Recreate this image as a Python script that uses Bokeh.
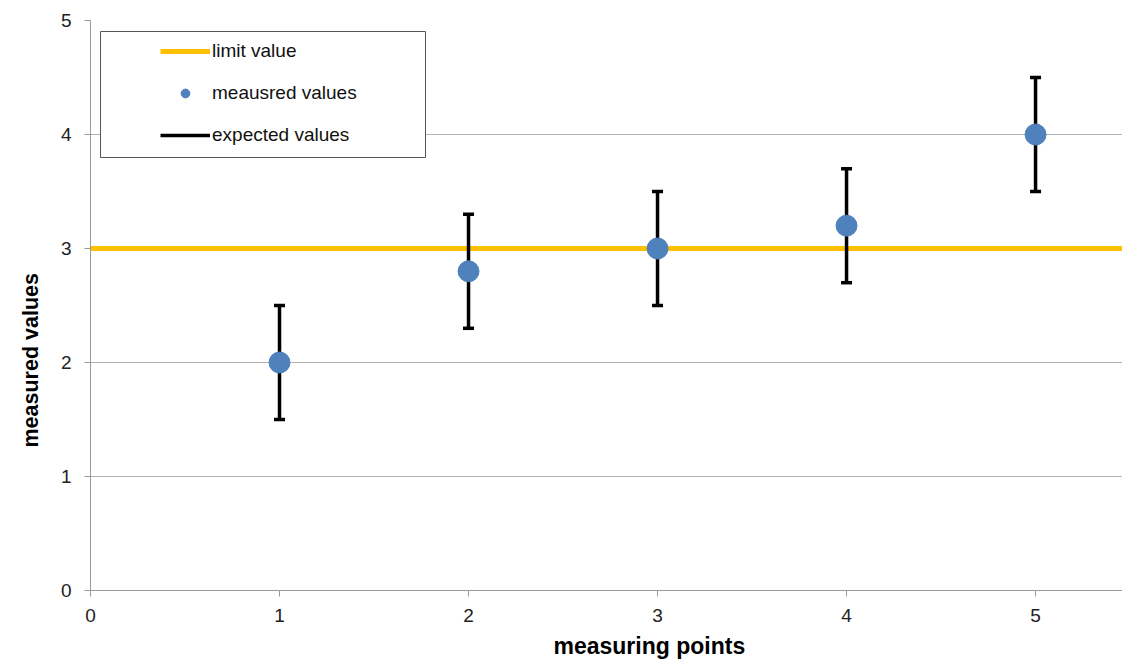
from bokeh.plotting import figure
from bokeh.models import Range1d, FixedTicker, Legend, LegendItem, BoxAnnotation, Title
from bokeh.embed import file_html
from bokeh.resources import INLINE

# data
points = [1, 2, 3, 4, 5]
measured = [2.0, 2.8, 3.0, 3.2, 4.0]
expected_low = [1.5, 2.3, 2.5, 2.7, 3.5]
expected_high = [2.5, 3.3, 3.5, 3.7, 4.5]
limit_value = 3
x_ticks = [0, 1, 2, 3, 4, 5]
y_ticks = [0, 1, 2, 3, 4, 5]
x_title = "measuring points"
y_title = "measured values"

FONT = "Liberation Sans"

p = figure(width=1122, height=666, output_backend="svg", toolbar_location=None,
           x_range=Range1d(0, 5.46), y_range=Range1d(0, 5),
           min_border_left=90, min_border_top=20, min_border_right=0, min_border_bottom=76)
p.outline_line_color = None
p.xgrid.grid_line_color = None
p.ygrid.grid_line_color = "#b3b3b3"
p.ygrid.grid_line_width = 1

for ax in (p.xaxis[0], p.yaxis[0]):
    ax.axis_line_color = "#9a9a9a"
    ax.major_tick_line_color = "#9a9a9a"
    ax.minor_tick_line_color = None
    ax.major_tick_in = 0
    ax.major_tick_out = 6
    ax.major_label_text_font = FONT
    ax.major_label_text_font_size = "19px"
    ax.major_label_text_color = "#222222"

p.xaxis.ticker = FixedTicker(ticks=x_ticks)
p.yaxis.ticker = FixedTicker(ticks=y_ticks)
p.xaxis.major_label_standoff = 12
p.yaxis.major_label_standoff = 13

p.add_layout(Title(text=x_title, align="left", offset=463, standoff=13,
                   text_font=FONT, text_font_size="23px", text_font_style="bold",
                   text_color="#000000"), "below")
p.add_layout(Title(text=y_title, align="left", offset=143, standoff=30,
                   text_font=FONT, text_font_size="21.5px", text_font_style="bold",
                   text_color="#000000"), "left")

limit_r = p.hspan(y=[limit_value], line_color="#ffc000", line_width=5)
stem_r = p.segment(x0=points, y0=expected_low, x1=points, y1=expected_high,
                   line_color="black", line_width=3.5)
p.scatter(x=points + points, y=expected_low + expected_high, marker="dash",
          size=11, line_color="black", line_width=3.5)
meas_r = p.scatter(x=points, y=measured, size=21, fill_color="#4f81bd",
                   line_color="#4f81bd")

box = BoxAnnotation(left=10, right=335, top=559, bottom=433,
                    left_units="screen", right_units="screen",
                    top_units="screen", bottom_units="screen",
                    fill_color="white", fill_alpha=1.0,
                    line_color="#555555", line_width=1, line_alpha=1.0)
p.add_layout(box)

legend = Legend(items=[
    LegendItem(label="limit value", renderers=[limit_r]),
    LegendItem(label="meausred values", renderers=[meas_r]),
    LegendItem(label="expected values", renderers=[stem_r]),
], location=(70, 444), padding=0, margin=0, spacing=20,
    glyph_width=50, glyph_height=22, label_height=22, label_standoff=2,
    label_text_font=FONT, label_text_font_size="19px", label_text_color="#111111",
    border_line_color=None, background_fill_alpha=0)
p.add_layout(legend)

open("out.html", "w").write(file_html(p, INLINE))
